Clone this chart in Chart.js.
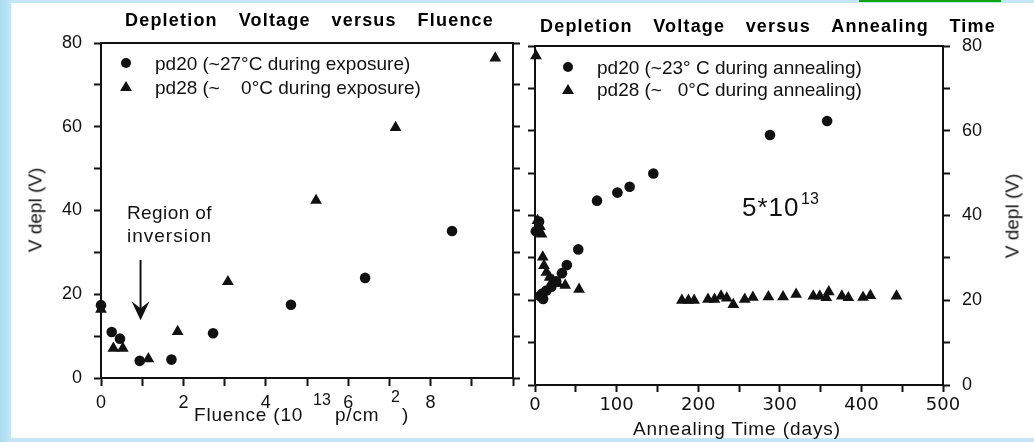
<!DOCTYPE html>
<html>
<head>
<meta charset="utf-8">
<script src="https://cdn.jsdelivr.net/npm/chart.js@4.4.1/dist/chart.umd.min.js"></script>
<style>
  body { margin: 0; width: 1034px; height: 442px; overflow: hidden; position: relative;
         background: linear-gradient(90deg, #a9dbee 0px, #c4e6f7 11px, #c4e6f7 100%);
         font-family: "Liberation Sans", Arial, sans-serif; color: #111; }
  #paper { position: absolute; left: 11px; top: 3px; width: 1023px; height: 435px; background: #fff; }
  #green { position: absolute; left: 859px; top: 0; width: 142px; height: 2px; background: #0aa30a; }
  canvas { position: absolute; top: 0; }
  .t { position: absolute; white-space: pre; line-height: 1; transform: translateY(-50%); }
  .title { position: absolute; display: flex; justify-content: space-between; font-weight: bold;
           font-size: 18px; letter-spacing: 1.2px; line-height: 1; transform: translateY(-50%); color: #000; }
  .rot { transform: translate(-50%, -50%) rotate(-90deg); }
  .dot { position: absolute; width: 10px; height: 10px; border-radius: 50%; background: #111;
         transform: translate(-50%, -50%); }
  .tri { position: absolute; width: 0; height: 0; border-left: 6px solid transparent;
         border-right: 6px solid transparent; border-bottom: 10px solid #111; transform: translate(-50%, -50%); }
</style>
</head>
<body>
<div id="paper"></div>
<div id="green"></div>
<canvas id="fluenceChart" width="522" height="442" style="left:0"></canvas>
<canvas id="annealChart" width="512" height="442" style="left:522px"></canvas>

<div class="title" style="left:125px; top:20px; width:369px"><span>Depletion</span><span>Voltage</span><span>versus</span><span>Fluence</span></div>
<div class="title" style="left:540px; top:26px; width:456px"><span>Depletion</span><span>Voltage</span><span>versus</span><span>Annealing</span><span>Time</span></div>

<div class="dot" style="left:126px; top:63px"></div>
<div class="t" style="left:155px; top:63px; font-size:19px">pd20 (~27°C during exposure)</div>
<div class="tri" style="left:126px; top:86px"></div>
<div class="t" style="left:155px; top:87px; font-size:19px">pd28 (~    0°C during exposure)</div>

<div class="dot" style="left:568px; top:67px"></div>
<div class="t" style="left:597px; top:67px; font-size:19px">pd20 (~23° C during annealing)</div>
<div class="tri" style="left:568px; top:89px"></div>
<div class="t" style="left:597px; top:89px; font-size:19px">pd28 (~   0°C during annealing)</div>

<div class="t" style="left:127px; top:212px; font-size:19px; letter-spacing:0.4px">Region of</div>
<div class="t" style="left:127px; top:235px; font-size:19px; letter-spacing:1px">inversion</div>

<div class="t" style="left:742px; top:207px; font-size:26px; letter-spacing:1px">5*10</div>
<div class="t" style="left:801px; top:199px; font-size:16px">13</div>

<div class="t rot" style="left:35px; top:210px; font-size:19px">V depl (V)</div>
<div class="t rot" style="left:1012px; top:216px; font-size:19px">V depl (V)</div>

<div class="t" style="left:194px; top:414px; font-size:19px; letter-spacing:0.8px">Fluence (10</div>
<div class="t" style="left:313px; top:400px; font-size:16px">13</div>
<div class="t" style="left:335px; top:414px; font-size:19px; letter-spacing:0.8px">p/cm</div>
<div class="t" style="left:391px; top:397px; font-size:16px">2</div>
<div class="t" style="left:402px; top:414px; font-size:19px">)</div>

<div class="t" style="left:633px; top:428px; font-size:19px; letter-spacing:0.9px">Annealing Time (days)</div>

<script>
// left panel: V depl vs fluence (10^13 p/cm^2)
const fluence20 = [0, 0.26, 0.46, 0.94, 1.71, 2.72, 4.61, 6.41, 8.52];
const vFluence20 = [17.4, 11.0, 9.4, 4.1, 4.4, 10.7, 17.5, 23.9, 35.1];
const fluence28 = [0, 0.3, 0.53, 1.15, 1.86, 3.08, 5.22, 7.15, 9.57];
const vFluence28 = [16.4, 7.1, 7.1, 4.6, 11.1, 23.0, 42.4, 59.8, 76.4];

// right panel: V depl vs annealing time (days)
const days20 = [1, 5, 6, 9, 10, 14, 20, 26, 33, 39, 53, 76, 101, 116, 145, 288, 358];
const vDays20 = [36.3, 38.6, 21.0, 21.6, 20.3, 22.3, 23.2, 24.5, 26.4, 28.3, 32.0, 43.5, 45.4, 46.8, 49.9, 59.0, 62.3];
const days28 = [1.2, 3, 6, 8, 9.5, 11, 14, 18, 22, 28, 37, 54,
                180, 188, 195, 212, 220, 228, 235, 243, 257, 267, 286, 304, 320,
                341, 349, 357, 360, 376, 384, 402, 411, 443];
const vDays28 = [77.7, 38.8, 37.4, 35.6, 30.2, 28.2, 26.6, 25.4, 24.7, 23.9, 23.5, 22.6,
                 20.0, 20.0, 20.0, 20.2, 20.2, 21.0, 20.5, 19.0, 20.2, 20.7, 20.8, 20.8, 21.4,
                 21.0, 21.0, 20.6, 22.0, 21.0, 20.6, 20.7, 21.1, 21.0];

// labelled ticks
const fluenceTicks = [0, 2, 4, 6, 8];
const voltTicks = [0, 20, 40, 60, 80];
const dayTicks = [0, 100, 200, 300, 400, 500];

// arrow "region of inversion" (data units)
const arrowFluence = 0.96;
const arrowTop = 28.2;
const arrowTip = 13.8;

const black = '#111';
const pts = (xs, ys) => xs.map((x, i) => ({ x: x, y: ys[i] }));

function axis(pos, min, max, step, shown, size, extra) {
  const a = {
    type: 'linear', position: pos, min: min, max: max,
    border: { display: true, color: black, width: 2 },
    grid: { display: true, drawOnChartArea: false, drawTicks: true, tickLength: 7, tickWidth: 2, tickColor: black },
    ticks: {
      stepSize: step, autoSkip: false, maxRotation: 0, color: black,
      display: shown !== null,
      callback: v => (shown && shown.includes(v)) ? String(v) : ''
    },
    afterFit: s => { if (s.isHorizontal()) s.height = size; else s.width = size; }
  };
  if (extra) {
    if (extra.ticks) Object.assign(a.ticks, extra.ticks);
    if (extra.grid) Object.assign(a.grid, extra.grid);
  }
  return a;
}

function sets(a, b) {
  return [
    { data: a, pointStyle: 'circle', pointRadius: 5.3, backgroundColor: black, borderColor: black, borderWidth: 0, showLine: false, clip: false },
    { data: b, pointStyle: 'triangle', pointRadius: 6.8, backgroundColor: black, borderColor: black, borderWidth: 0, showLine: false, clip: false }
  ];
}

const baseOpts = {
  responsive: false,
  animation: false,
  devicePixelRatio: 1,
  plugins: { legend: { display: false }, tooltip: { enabled: false } }
};

const arrowPlugin = {
  id: 'inversionArrow',
  afterDatasetsDraw(chart) {
    const ctx = chart.ctx;
    const px = chart.scales.x.getPixelForValue(arrowFluence);
    const top = chart.scales.y.getPixelForValue(arrowTop);
    const tip = chart.scales.y.getPixelForValue(arrowTip);
    ctx.save();
    ctx.strokeStyle = black;
    ctx.fillStyle = black;
    ctx.lineWidth = 2;
    ctx.beginPath();
    ctx.moveTo(px, top);
    ctx.lineTo(px, tip - 10);
    ctx.stroke();
    ctx.beginPath();
    ctx.moveTo(px, tip);
    ctx.lineTo(px - 9, tip - 19);
    ctx.lineTo(px, tip - 12);
    ctx.lineTo(px + 9, tip - 19);
    ctx.closePath();
    ctx.fill();
    ctx.restore();
  }
};

const leftFont = { family: 'Liberation Sans', size: 18 };

new Chart(document.getElementById('fluenceChart'), {
  type: 'scatter',
  data: { datasets: sets(pts(fluence20, vFluence20), pts(fluence28, vFluence28)) },
  options: Object.assign({}, baseOpts, {
    layout: { padding: { top: 43, left: 0, right: 0, bottom: 0 } },
    scales: {
      x: axis('bottom', 0, 10, 1, fluenceTicks, 64, { ticks: { font: leftFont, padding: 6 }, grid: { tickLength: 8 } }),
      xTop: axis('top', 0, 10, 1, null, 0, { grid: { drawTicks: false } }),
      y: axis('left', 0, 80, 10, voltTicks, 101, { ticks: { font: leftFont, padding: 12 } }),
      yRight: axis('right', 0, 80, 10, [], 9)
    }
  }),
  plugins: [arrowPlugin]
});

new Chart(document.getElementById('annealChart'), {
  type: 'scatter',
  data: { datasets: sets(pts(days20, vDays20), pts(days28, vDays28)) },
  options: Object.assign({}, baseOpts, {
    layout: { padding: { top: 46, left: 0, right: 0, bottom: 0 } },
    scales: {
      x: axis('bottom', 0, 500, 50, dayTicks, 57, { ticks: { font: { family: 'DejaVu Sans', size: 18 }, padding: 3 } }),
      xTop: axis('top', 0, 500, 50, null, 0, { grid: { drawTicks: false } }),
      y: axis('left', 0, 80, 10, [], 13),
      yRight: axis('right', 0, 80, 10, voltTicks, 91, { ticks: { font: leftFont, padding: 12 } })
    }
  })
});
</script>
</body>
</html>
